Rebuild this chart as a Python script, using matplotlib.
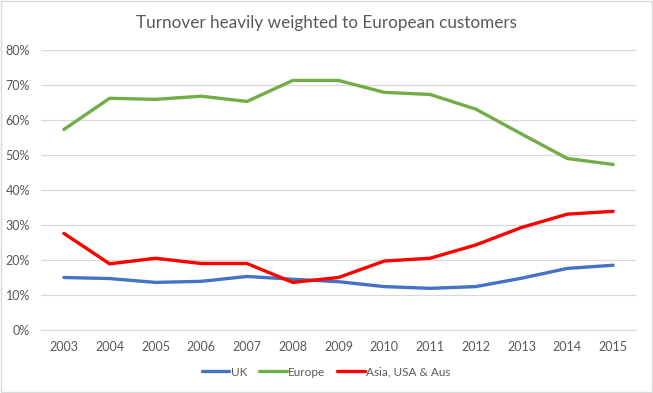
import matplotlib
matplotlib.use("Agg")
import matplotlib.pyplot as plt
from matplotlib.ticker import PercentFormatter
from matplotlib.patches import Rectangle

plt.rcParams['font.family'] = ['Lato', 'DejaVu Sans']

years = ['2003', '2004', '2005', '2006', '2007', '2008', '2009', '2010', '2011', '2012', '2013', '2014', '2015']
uk = [15.0, 14.7, 13.6, 13.9, 15.3, 14.5, 13.8, 12.4, 11.9, 12.4, 14.8, 17.6, 18.5]
europe = [57.3, 66.2, 65.9, 66.8, 65.3, 71.3, 71.3, 67.9, 67.3, 63.1, 56.0, 49.0, 47.3]
asia = [27.6, 18.9, 20.5, 19.0, 19.0, 13.6, 15.0, 19.7, 20.5, 24.3, 29.3, 33.1, 33.9]
yticks = [0, 10, 20, 30, 40, 50, 60, 70, 80]

fig = plt.figure(figsize=(6.53, 3.93), dpi=100)
fig.patches.append(Rectangle((0.002, 0.003), 0.996, 0.994, transform=fig.transFigure,
                             fill=False, edgecolor='#D9D9D9', linewidth=1))
ax = fig.add_axes([41/653, 1 - 330/393, (636 - 41)/653, (330 - 50)/393])

x = list(range(len(years)))
ax.plot(x, uk, color='#4472C4', lw=2.4, label='UK', solid_capstyle='round')
ax.plot(x, europe, color='#70AD47', lw=2.4, label='Europe', solid_capstyle='round')
ax.plot(x, asia, color='#FF0000', lw=2.4, label='Asia, USA & Aus', solid_capstyle='round')

ax.set_xlim(-0.5, len(years) - 0.5)
ax.set_ylim(0, 80)
ax.set_yticks(yticks)
ax.yaxis.set_major_formatter(PercentFormatter(decimals=0))
ax.set_xticks(x)
ax.set_xticklabels(years)
ax.grid(axis='y', color='#D9D9D9', lw=0.9)
ax.set_axisbelow(True)
for s in ['top', 'right', 'left']:
    ax.spines[s].set_visible(False)
ax.spines['bottom'].set_color('#D9D9D9')
ax.spines['bottom'].set_linewidth(0.9)
ax.tick_params(axis='both', length=0, labelsize=9, labelcolor='#595959')
ax.tick_params(axis='x', pad=8)
ax.tick_params(axis='y', pad=8)

fig.text(0.5, 1 - 23/393, 'Turnover heavily weighted to European customers',
         ha='center', va='center', fontsize=12.3, color='#595959')

fig.legend(loc='center', bbox_to_anchor=(0.5, 1 - 372/393), ncol=3, frameon=False,
           fontsize=8.5, labelcolor='#595959', handlelength=2.3, handletextpad=0.15,
           columnspacing=1.0)

fig.savefig('out.png', dpi=100)
